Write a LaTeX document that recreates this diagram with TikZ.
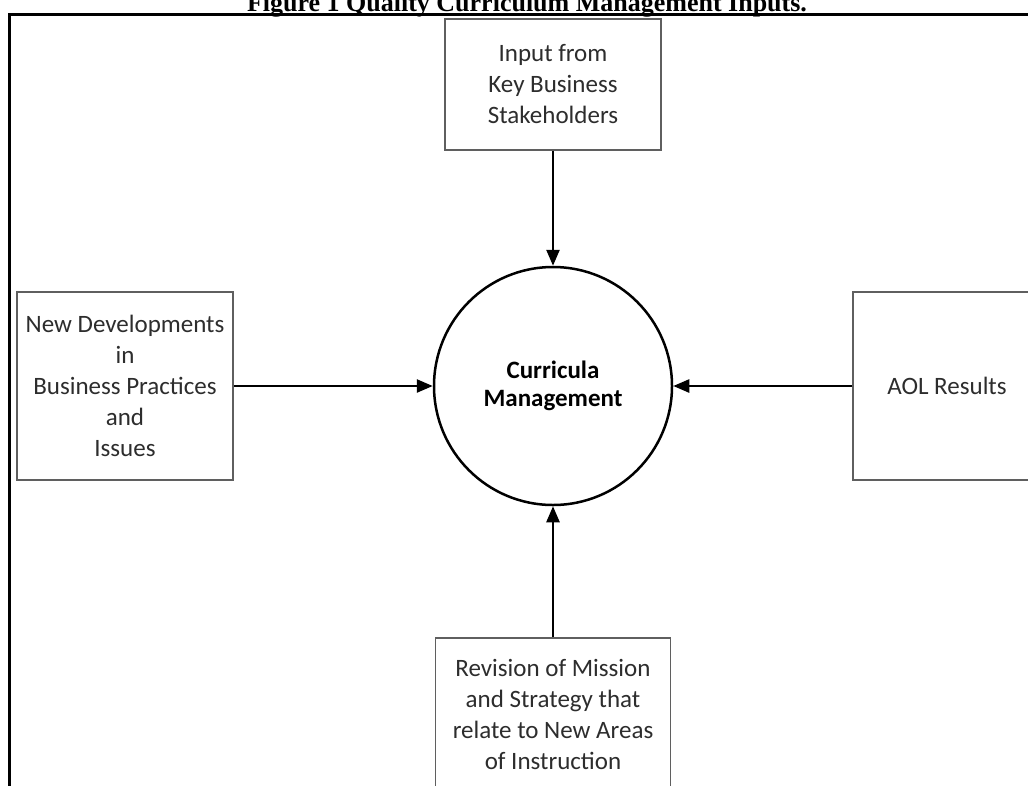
\documentclass[tikz,border=0pt]{standalone}
\usepackage{fontspec}
\setmainfont{Carlito}
\newfontfamily\titlefont{Liberation Serif}
\usepackage{tikz}
\usetikzlibrary{arrows.meta,positioning}
\definecolor{boxline}{RGB}{95,95,95}
\definecolor{boxtext}{RGB}{45,45,45}

\begin{document}
\begin{tikzpicture}[
    x=1pt, y=-1pt,
    inputbox/.style={rectangle, draw=boxline, line width=1.8pt, fill=white, align=center, inner sep=0pt, text=boxtext, font=\fontsize{25}{31}\selectfont},
    hub/.style={circle, draw=black, line width=2.5pt, fill=white, minimum size=238pt, inner sep=0pt, align=center, font=\fontsize{25}{28}\selectfont\bfseries},
    arrow/.style={-{Triangle[length=16pt,width=13pt]}, line width=2.5pt},
    frameline/.style={line width=2.7pt, line cap=rect}
]
\useasboundingbox (0,0) rectangle (1028,785);

% Title (cut off by the page edge)
\node[anchor=base, font=\titlefont\bfseries\fontsize{26}{28}\selectfont] (title) at (527,11.5) {Figure 1 Quality Curriculum Management Inputs.};

% Frame
\draw[frameline] (9.3,795) -- (9.3,14.7) -- (1040,14.7);

% Centre
\node[hub] (cm) at (553,386) {Curricula\\Management};

% Inputs
\node[inputbox, minimum width=216pt, minimum height=131pt] (stake) at (553,84.5) {Input from\\Key Business\\Stakeholders};
\node[inputbox, minimum width=216pt, minimum height=188pt] (devel) at (125,386) {New Developments\\in\\Business Practices\\and\\Issues};
\node[inputbox, minimum width=188pt, minimum height=188pt] (aol) at (947,386) {AOL Results};
\node[inputbox, minimum width=235pt, minimum height=152pt] (mission) at (553,714) {Revision of Mission\\and Strategy that\\relate to New Areas\\of Instruction};

% Arrows into the centre
\draw[arrow] (stake.south) -- (cm.north);
\draw[arrow] (devel.east) -- (cm.west);
\draw[arrow] (aol.west) -- (cm.east);
\draw[arrow] (mission.north) -- (cm.south);

\end{tikzpicture}
\end{document}
